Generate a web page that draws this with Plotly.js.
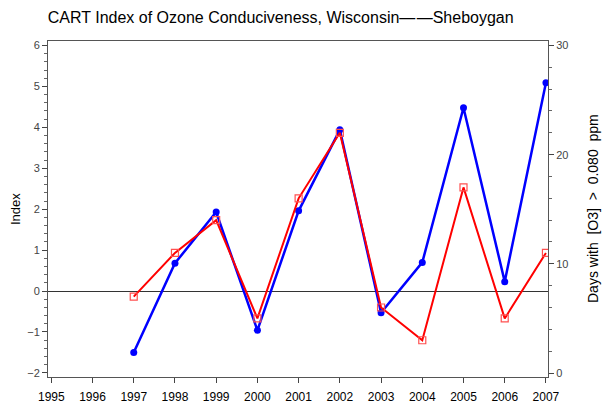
<!DOCTYPE html>
<html>
<head>
<meta charset="utf-8">
<script src="https://cdn.plot.ly/plotly-3.0.1.min.js"></script>
<style>html,body{margin:0;padding:0;background:#fff;}#chart{width:605px;height:413px;}</style>
</head>
<body>
<div id="chart"></div>
<script>
// Data
var years = [1997, 1998, 1999, 2000, 2001, 2002, 2003, 2004, 2005, 2006, 2007];
var cartIndex = [-1.50, 0.68, 1.93, -0.96, 1.96, 3.94, -0.53, 0.70, 4.48, 0.23, 5.09];
var daysOver = [7, 11, 14, 5, 16, 22, 6, 3, 17, 5, 11];
var xTickVals = [1995, 1996, 1997, 1998, 1999, 2000, 2001, 2002, 2003, 2004, 2005, 2006, 2007];

var traces = [
  {
    x: years, y: cartIndex, type: 'scatter', mode: 'lines+markers',
    line: {color: '#0000ff', width: 2.5},
    marker: {symbol: 'circle', size: 7, color: '#0000ff'},
    yaxis: 'y', showlegend: false, hoverinfo: 'skip'
  },
  {
    x: years, y: daysOver, type: 'scatter', mode: 'lines+markers',
    line: {color: '#ff0000', width: 2},
    marker: {symbol: 'square-open', size: 7, color: '#ff5050', line: {width: 1.2}},
    yaxis: 'y2', showlegend: false, hoverinfo: 'skip'
  }
];

var fam = 'Liberation Sans, Arial, sans-serif';
var axisFont = {family: fam, size: 11, color: '#444'};
var NB = '\u00a0';

var layout = {
  width: 605, height: 413,
  margin: {l: 48, r: 57, t: 41, b: 36, pad: 0},
  paper_bgcolor: '#fff', plot_bgcolor: '#fff',
  font: {family: fam, color: '#000'},
  title: {
    text: 'CART Index of Ozone Conduciveness, Wisconsin\u2014\u200a\u2014Sheboygan',
    font: {family: fam, size: 16, color: '#000'},
    x: 0.464, xref: 'container', xanchor: 'center',
    y: 0.958, yref: 'container', yanchor: 'middle'
  },
  xaxis: {
    range: [1994.92, 2007.05],
    tickvals: xTickVals, ticktext: xTickVals.map(String),
    ticks: 'outside', ticklen: 5, tickcolor: '#444', tickwidth: 1,
    ticklabelstandoff: 4,
    showline: true, linecolor: '#555', linewidth: 1, mirror: true,
    showgrid: false, zeroline: false,
    tickfont: {family: fam, size: 12, color: '#000'}
  },
  yaxis: {
    range: [-2.1, 6.11], dtick: 1, tick0: 0,
    ticks: 'outside', ticklen: 5, tickcolor: '#444', tickwidth: 1,
    minor: {dtick: 0.2, ticks: 'outside', ticklen: 3, tickcolor: '#666', showgrid: false},
    showline: true, linecolor: '#555', linewidth: 1,
    showgrid: false, zeroline: true, zerolinecolor: '#333', zerolinewidth: 1,
    tickfont: axisFont
  },
  yaxis2: {
    overlaying: 'y', side: 'right', anchor: 'x',
    range: [-0.366, 30.41], dtick: 10, tick0: 0,
    ticks: 'outside', ticklen: 5, tickcolor: '#444', tickwidth: 1,
    minor: {dtick: 2, ticks: 'outside', ticklen: 3, tickcolor: '#666', showgrid: false},
    showline: true, linecolor: '#555', linewidth: 1,
    showgrid: false, zeroline: false,
    tickfont: axisFont
  },
  annotations: [
    {text: 'Index', xref: 'paper', yref: 'paper', x: -0.066, y: 0.5,
     xanchor: 'center', yanchor: 'middle', textangle: -90, showarrow: false,
     font: {family: fam, size: 13, color: '#000'}},
    {text: 'Days with' + NB + NB + '[O3]' + NB + NB + '>' + NB + NB + '0.080' + NB + NB + 'ppm',
     xref: 'paper', yref: 'paper', x: 1.09, y: 0.5,
     xanchor: 'center', yanchor: 'middle', textangle: -90, showarrow: false,
     font: {family: fam, size: 14, color: '#000'}}
  ]
};

Plotly.newPlot('chart', traces, layout, {staticPlot: true, displayModeBar: false});
</script>
</body>
</html>
